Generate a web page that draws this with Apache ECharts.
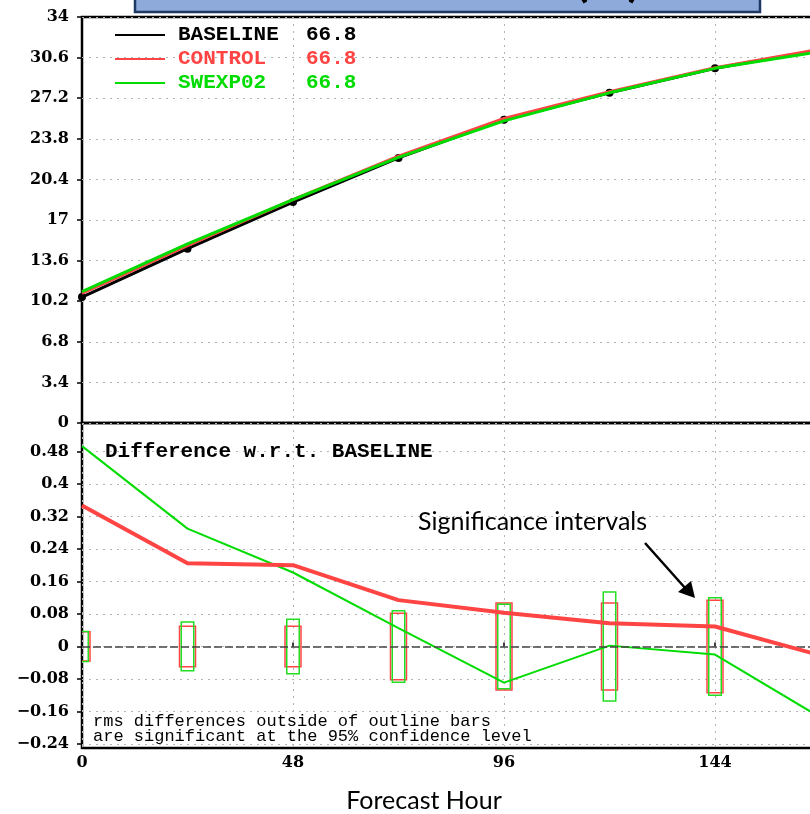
<!DOCTYPE html>
<html><head><meta charset="utf-8">
<script src="https://cdn.jsdelivr.net/npm/echarts@6/dist/echarts.min.js"></script>
<style>html,body{margin:0;padding:0;background:#fff}#c{width:810px;height:814px}</style>
</head><body><div id="c"></div>
<script>
const hours = [0, 24, 48, 72, 96, 120, 144, 168];
const seriesNames = ['BASELINE', 'CONTROL', 'SWEXP02'];
const legendValues = ['66.8', '66.8', '66.8'];
const baseline = [10.55, 14.6, 18.5, 22.2, 25.4, 27.65, 29.7, 31.25];
const control  = [10.85, 14.85, 18.7, 22.35, 25.5, 27.75, 29.75, 31.3];
const swexp02  = [11.0, 15.0, 18.7, 22.25, 25.3, 27.65, 29.7, 31.1];
const diffControl = [0.347, 0.205, 0.2, 0.114, 0.083, 0.057, 0.049, -0.022];
const diffSwexp02 = [0.493, 0.29, 0.182, 0.045, -0.089, 0.002, -0.02, -0.175];
const sigHours = [0, 24, 48, 72, 96, 120, 144];
const sigControl = [0.036, 0.05, 0.05, 0.082, 0.107, 0.107, 0.114];
const sigSwexp02 = [0.037, 0.06, 0.067, 0.088, 0.104, 0.134, 0.12];
const topTicks = [0, 3.4, 6.8, 10.2, 13.6, 17, 20.4, 23.8, 27.2, 30.6, 34];
const diffTicks = [-0.24, -0.16, -0.08, 0, 0.08, 0.16, 0.24, 0.32, 0.4, 0.48];
const hourTicks = [0, 48, 96, 144];
const gridHours = [48, 96, 144];

const BLACK = '#000000', RED = '#ff4444', GREEN = '#00dc00';
const colors = [BLACK, RED, GREEN];
const pair = (xs, ys) => xs.map((x, i) => [x, ys[i]]);

const labelFont = {fontFamily: 'DejaVu Serif', fontWeight: 'bold', fontSize: 16, color: '#000'};
const splitStyle = {show: true, lineStyle: {color: '#b4b4b4', width: 1, type: [2, 5]}};

const chart = echarts.init(document.getElementById('c'), null, {renderer: 'canvas'});

function sigRender(color, w) {
  return function (params, api) {
    const x = api.value(0), h = api.value(1);
    const t = api.coord([x, h]), b = api.coord([x, -h]);
    return {type: 'rect', shape: {x: t[0] - w / 2, y: t[1], width: w, height: b[1] - t[1]},
      style: {fill: 'none', stroke: color, lineWidth: 1.5}};
  };
}

const option = {
  animation: false,
  backgroundColor: '#fff',
  grid: [
    {left: 82, top: 17, right: -10.5, height: 406, show: true, borderColor: '#000', borderWidth: 2.5, outerBoundsMode: 'none', containLabel: false},
    {left: 82, top: 423, right: -10.5, height: 325, show: true, borderColor: '#000', borderWidth: 2.5, outerBoundsMode: 'none', containLabel: false}
  ],
  xAxis: [
    {type: 'value', gridIndex: 0, min: 0, max: 168,
      axisLine: {show: false}, axisTick: {show: false, customValues: gridHours},
      axisLabel: {show: false, customValues: gridHours}, splitLine: splitStyle},
    {type: 'value', gridIndex: 1, min: 0, max: 168,
      axisLine: {show: false}, axisTick: {show: true, inside: true, length: 4, customValues: hourTicks, lineStyle: {color: '#000', width: 1.5}},
      axisLabel: Object.assign({customValues: hourTicks, margin: 7}, labelFont), splitLine: splitStyle}
  ],
  yAxis: [
    {type: 'value', gridIndex: 0, min: 0, max: 34,
      axisLine: {show: false}, axisTick: {show: true, length: 5, customValues: topTicks, lineStyle: {color: '#000', width: 1.5}},
      axisLabel: Object.assign({customValues: topTicks, margin: 13, formatter: v => String(+(+v).toFixed(1))}, labelFont),
      splitLine: splitStyle},
    {type: 'value', gridIndex: 1, min: -0.25, max: 0.55,
      axisLine: {show: false}, axisTick: {show: true, length: 5, customValues: diffTicks, lineStyle: {color: '#000', width: 1.5}},
      axisLabel: Object.assign({customValues: diffTicks, margin: 13,
        formatter: v => { const a = +Math.abs(+v).toFixed(2); return (v < -1e-9 ? '\u2212' : '') + String(a); }}, labelFont),
      splitLine: splitStyle}
  ],
  legend: {
    orient: 'vertical', left: 115, top: 24.5, padding: 0, itemWidth: 50, itemHeight: 2, itemGap: 3,
    icon: 'rect', selectedMode: false,
    data: seriesNames.map((n, i) => ({name: n, textStyle: {color: colors[i]}})),
    formatter: name => '{n|' + name + '}{v|' + legendValues[seriesNames.indexOf(name)] + '}',
    textStyle: {fontFamily: 'Liberation Mono', fontWeight: 'bold', fontSize: 21, lineHeight: 21,
      rich: {
        n: {fontFamily: 'Liberation Mono', fontWeight: 'bold', fontSize: 21, width: 128, padding: [0, 0, 0, 8]},
        v: {fontFamily: 'Liberation Mono', fontWeight: 'bold', fontSize: 21}
      }}
  },
  series: [
    {name: seriesNames[0], type: 'line', xAxisIndex: 0, yAxisIndex: 0, data: pair(hours, baseline),
      color: BLACK, lineStyle: {width: 3, color: BLACK}, symbol: 'circle', symbolSize: 8,
      itemStyle: {color: BLACK}, z: 3},
    {name: seriesNames[1], type: 'line', xAxisIndex: 0, yAxisIndex: 0, data: pair(hours, control),
      color: RED, lineStyle: {width: 3, color: RED}, symbol: 'none', z: 4},
    {name: seriesNames[2], type: 'line', xAxisIndex: 0, yAxisIndex: 0, data: pair(hours, swexp02),
      color: GREEN, lineStyle: {width: 3, color: GREEN}, symbol: 'none', z: 5},
    {type: 'custom', xAxisIndex: 1, yAxisIndex: 1, data: pair(sigHours, sigControl), clip: true,
      renderItem: sigRender(RED, 16), encode: {x: 0, y: 1}, z: 2, silent: true},
    {type: 'custom', xAxisIndex: 1, yAxisIndex: 1, data: pair(sigHours, sigSwexp02), clip: true,
      renderItem: sigRender('#22dd22', 12.5), encode: {x: 0, y: 1}, z: 2, silent: true},
    {type: 'line', xAxisIndex: 1, yAxisIndex: 1, data: pair(hours, diffSwexp02),
      lineStyle: {width: 2, color: GREEN}, symbol: 'none', z: 4,
      markLine: {silent: true, symbol: 'none', label: {show: false},
        lineStyle: {color: '#444', type: [8, 3], width: 1.5}, data: [{yAxis: 0}]}},
    {type: 'line', xAxisIndex: 1, yAxisIndex: 1, data: pair(hours, diffControl),
      lineStyle: {width: 4, color: RED}, symbol: 'none', z: 5}
  ],
  graphic: [
    {type: 'rect', shape: {x: 135, y: -20, width: 625, height: 32},
      style: {fill: '#8eaadb', stroke: '#1f3864', lineWidth: 2.5}, z: 10},
    {type: 'text', x: 608, y: -19.5, z: 11,
      style: {text: '(m)', fontFamily: 'Lato', fontWeight: 'bold', fontSize: 48, fill: '#000', align: 'center', verticalAlign: 'middle'}},
    {type: 'text', x: 105, y: 452, z: 11,
      style: {text: 'Difference w.r.t. BASELINE', fontFamily: 'Liberation Mono', fontWeight: 'bold', fontSize: 21, fill: '#000', align: 'left', verticalAlign: 'middle'}},
    {type: 'text', x: 93, y: 729, z: 11,
      style: {text: 'rms differences outside of outline bars\nare significant at the 95% confidence level', fontFamily: 'Liberation Mono', fontSize: 17, lineHeight: 15, fill: '#000', align: 'left', verticalAlign: 'middle'}},
    {type: 'text', x: 418, y: 522, z: 11,
      style: {text: 'Significance intervals', fontFamily: 'Lato', fontSize: 25, fill: '#000', align: 'left', verticalAlign: 'middle'}},
    {type: 'line', shape: {x1: 645, y1: 543, x2: 686, y2: 589}, style: {stroke: '#000', lineWidth: 2.5}, z: 11},
    {type: 'polygon', shape: {points: [[695, 598], [678, 592], [691, 581]]}, style: {fill: '#000'}, z: 11},
    {type: 'text', x: 424, y: 801, z: 11,
      style: {text: 'Forecast Hour', fontFamily: 'Lato', fontSize: 25, fill: '#000', align: 'center', verticalAlign: 'middle'}}
  ]
};
chart.setOption(option);
</script></body></html>
